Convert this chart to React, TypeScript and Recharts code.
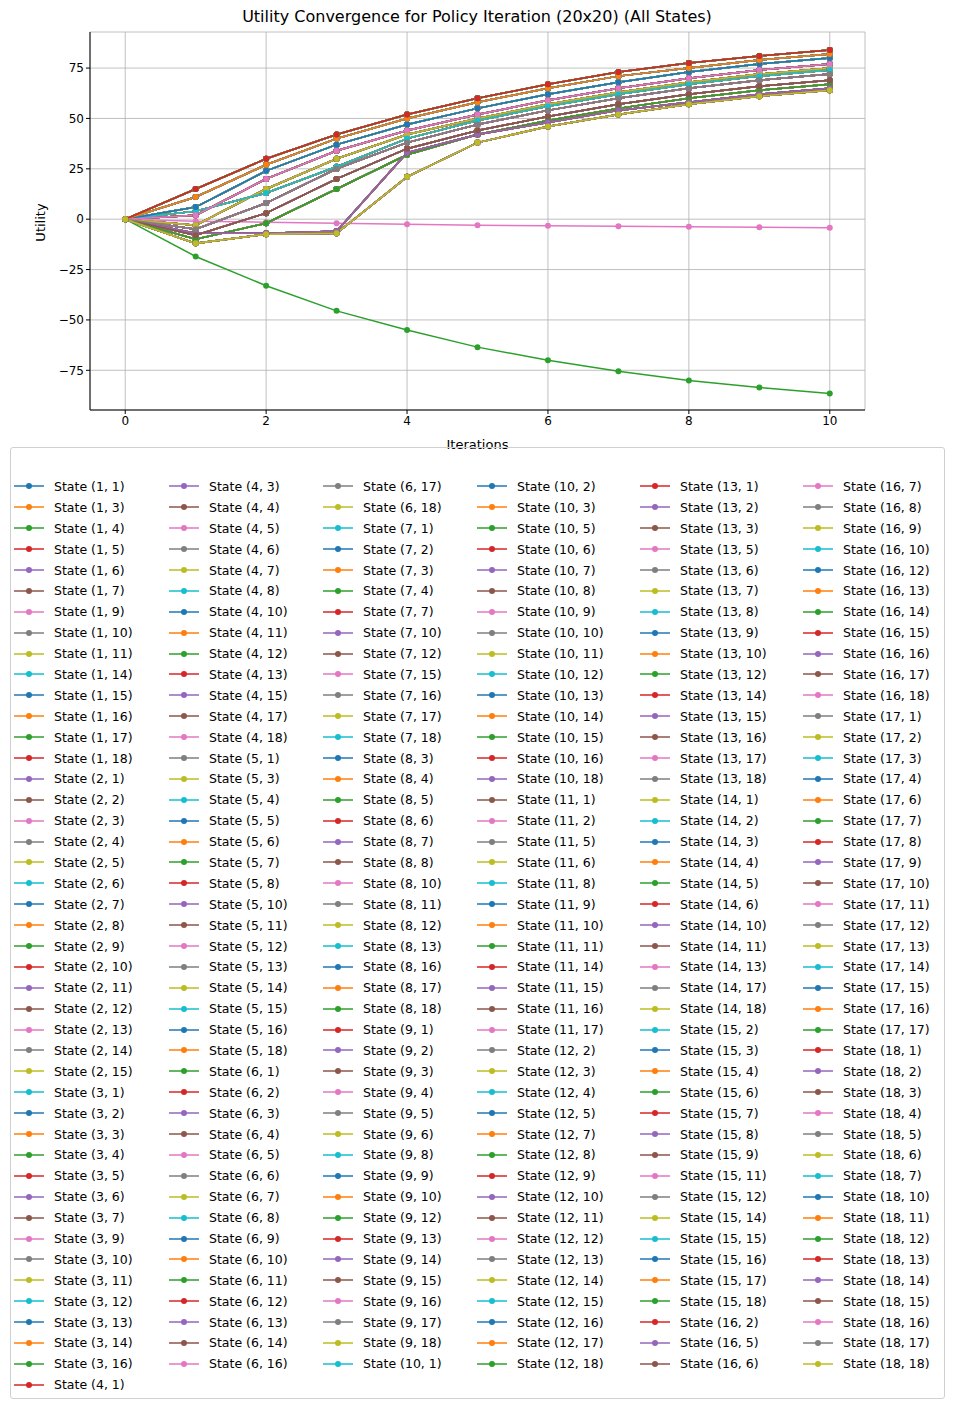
import React from "react";
import { LineChart, Line, XAxis, YAxis, CartesianGrid } from "recharts";

const ITERATIONS = [0, 1, 2, 3, 4, 5, 6, 7, 8, 9, 10];
const X_TICKS = [0, 2, 4, 6, 8, 10];
const Y_TICKS = [-75, -50, -25, 0, 25, 50, 75];

const COLORS = ["#1f77b4", "#ff7f0e", "#2ca02c", "#d62728", "#9467bd", "#8c564b", "#e377c2", "#7f7f7f", "#bcbd22", "#17becf"];

// state labels as they stand in the legend, column by column
const STATES: [number, number][] = [
  [1,1],[1,3],[1,4],[1,5],[1,6],[1,7],[1,9],[1,10],[1,11],[1,14],[1,15],[1,16],[1,17],[1,18],[2,1],[2,2],[2,3],[2,4],[2,5],[2,6],[2,7],[2,8],[2,9],[2,10],[2,11],[2,12],[2,13],[2,14],[2,15],[3,1],[3,2],[3,3],[3,4],[3,5],[3,6],[3,7],[3,9],[3,10],[3,11],[3,12],[3,13],[3,14],[3,16],[4,1],
  [4,3],[4,4],[4,5],[4,6],[4,7],[4,8],[4,10],[4,11],[4,12],[4,13],[4,15],[4,17],[4,18],[5,1],[5,3],[5,4],[5,5],[5,6],[5,7],[5,8],[5,10],[5,11],[5,12],[5,13],[5,14],[5,15],[5,16],[5,18],[6,1],[6,2],[6,3],[6,4],[6,5],[6,6],[6,7],[6,8],[6,9],[6,10],[6,11],[6,12],[6,13],[6,14],[6,16],
  [6,17],[6,18],[7,1],[7,2],[7,3],[7,4],[7,7],[7,10],[7,12],[7,15],[7,16],[7,17],[7,18],[8,3],[8,4],[8,5],[8,6],[8,7],[8,8],[8,10],[8,11],[8,12],[8,13],[8,16],[8,17],[8,18],[9,1],[9,2],[9,3],[9,4],[9,5],[9,6],[9,8],[9,9],[9,10],[9,12],[9,13],[9,14],[9,15],[9,16],[9,17],[9,18],[10,1],
  [10,2],[10,3],[10,5],[10,6],[10,7],[10,8],[10,9],[10,10],[10,11],[10,12],[10,13],[10,14],[10,15],[10,16],[10,18],[11,1],[11,2],[11,5],[11,6],[11,8],[11,9],[11,10],[11,11],[11,14],[11,15],[11,16],[11,17],[12,2],[12,3],[12,4],[12,5],[12,7],[12,8],[12,9],[12,10],[12,11],[12,12],[12,13],[12,14],[12,15],[12,16],[12,17],[12,18],
  [13,1],[13,2],[13,3],[13,5],[13,6],[13,7],[13,8],[13,9],[13,10],[13,12],[13,14],[13,15],[13,16],[13,17],[13,18],[14,1],[14,2],[14,3],[14,4],[14,5],[14,6],[14,10],[14,11],[14,13],[14,17],[14,18],[15,2],[15,3],[15,4],[15,6],[15,7],[15,8],[15,9],[15,11],[15,12],[15,14],[15,15],[15,16],[15,17],[15,18],[16,2],[16,5],[16,6],
  [16,7],[16,8],[16,9],[16,10],[16,12],[16,13],[16,14],[16,15],[16,16],[16,17],[16,18],[17,1],[17,2],[17,3],[17,4],[17,6],[17,7],[17,8],[17,9],[17,10],[17,11],[17,12],[17,13],[17,14],[17,15],[17,16],[17,17],[18,1],[18,2],[18,3],[18,4],[18,5],[18,6],[18,7],[18,10],[18,11],[18,12],[18,13],[18,14],[18,15],[18,16],[18,17],[18,18],
];
const COLUMN_SIZES = [44, 43, 43, 43, 43, 43];

// representative utility curves
const CURVE_A = [0, 15, 30, 42, 52, 60, 67, 73, 77.5, 81, 84];
const CURVE_B = [0, 11, 27, 40, 50, 58, 65, 71, 75, 79, 82];
const CURVE_C = [0, 6, 24, 37, 47, 55, 62, 68, 73, 77, 80];
const CURVE_D = [0, 2, 20, 34, 44, 52, 59, 65, 70, 74, 77];
const CURVE_E = [0, -3, 15, 30, 42, 50, 57, 63, 68, 72, 75];
const CURVE_F = [0, -5, 8, 25, 38, 47, 54, 60, 65, 69, 72];
const CURVE_G = [0, -8, 3, 20, 35, 44, 51, 57, 62, 66, 69];
const CURVE_H = [0, -10, -2, 15, 32, 42, 49, 55, 60, 64, 67];
const CURVE_I = [0, -12, -7.5, -7, 21, 38, 46, 52, 57, 61, 64];
const CURVE_J = [0, -7, -7, -6, 33, 42, 48, 54, 58, 62, 65];
const CURVE_K = [0, 4, 13, 26, 40, 49, 56, 62, 67, 71, 74];
const CURVE_TRAP = [0, -18.5, -33, -45.5, -55, -63.5, -70, -75.5, -80, -83.5, -86.5];
const CURVE_FLAT = [0, -1, -1.5, -2, -2.5, -3, -3.3, -3.5, -3.8, -4, -4.2];
const CURVES = [CURVE_H, CURVE_J, CURVE_G, CURVE_D, CURVE_F, CURVE_I, CURVE_E, CURVE_K, CURVE_C, CURVE_B, CURVE_A];
const TRAP_STATE = 122; // green line going down
const FLAT_STATE = 216; // pink line near zero
const TOP_STATE = 253; // red line on top

const seriesFor = (i: number) =>
  i === TRAP_STATE ? CURVE_TRAP : i === FLAT_STATE ? CURVE_FLAT : i === TOP_STATE ? CURVE_A : CURVES[i % CURVES.length];

const data = ITERATIONS.map((it, k) => {
  const row: Record<string, number> = { it };
  STATES.forEach((_, i) => (row["s" + i] = seriesFor(i)[k]));
  return row;
});

const label = (s: [number, number]) => `State (${s[0]}, ${s[1]})`;
const COL_X = [14, 169, 323, 477, 640, 803];
const minus = (v: number) => String(v).replace("-", "\u2212");

export default function App() {
  const font = "DejaVu Sans, sans-serif";
  let start = 0;
  const columns = COLUMN_SIZES.map((n) => {
    const c = STATES.slice(start, start + n).map((s, j) => ({ s, idx: start + j }));
    start += n;
    return c;
  });
  return (
    <div style={{ position: "absolute", left: 0, top: 0, width: 954, height: 1409, background: "#fff", fontFamily: font }}>
      <div style={{ position: "absolute", top: 7, width: 954, textAlign: "center", fontSize: 16 }}>
        Utility Convergence for Policy Iteration (20x20) (All States)
      </div>
      <div style={{ position: "absolute", left: 20, top: 215, transform: "rotate(-90deg)", transformOrigin: "center", fontSize: 13, width: 40, textAlign: "center" }}>
        Utility
      </div>
      <div style={{ position: "absolute", top: 437, left: 90, width: 775, textAlign: "center", fontSize: 13 }}>Iterations</div>
      <div style={{ position: "absolute", left: 0, top: 0 }}>
        <LineChart width={954} height={440} data={data} margin={{ top: 32, right: 89, left: 40, bottom: 0 }}>
          <CartesianGrid stroke="#b0b0b0" strokeWidth={0.8} />
          <XAxis
            dataKey="it" type="number" domain={[-0.5, 10.5]} ticks={X_TICKS} height={30}
            tick={{ fill: "#000", fontSize: 12, fontFamily: font }} stroke="#000" tickSize={4}
          />
          <YAxis
            type="number" domain={[-94.7, 92.9]} ticks={Y_TICKS} width={50} tickFormatter={minus}
            tick={{ fill: "#000", fontSize: 12, fontFamily: font }} stroke="#000" tickSize={4}
          />
          {STATES.map((s, i) => (
            <Line
              key={i} dataKey={"s" + i} stroke={COLORS[i % 10]} strokeWidth={1.5}
              dot={{ r: 3, fill: COLORS[i % 10], stroke: COLORS[i % 10], strokeWidth: 0 }}
              isAnimationActive={false}
            />
          ))}
        </LineChart>
      </div>
      <div style={{ position: "absolute", left: 10, top: 447, width: 933, height: 950, border: "1px solid #d0d0d0", borderRadius: 3 }} />
      {columns.map((col, ci) => (
        <div key={ci} style={{ position: "absolute", left: COL_X[ci], top: 476 }}>
          {col.map(({ s, idx }) => (
            <div key={idx} style={{ height: 20.9, display: "flex", alignItems: "center", fontSize: 12.5, whiteSpace: "nowrap" }}>
              <svg width={30} height={10} style={{ marginRight: 10 }}>
                <line x1={0} y1={5} x2={30} y2={5} stroke={COLORS[idx % 10]} strokeWidth={1.5} />
                <circle cx={15} cy={5} r={3} fill={COLORS[idx % 10]} />
              </svg>
              {label(s)}
            </div>
          ))}
        </div>
      ))}
    </div>
  );
}
